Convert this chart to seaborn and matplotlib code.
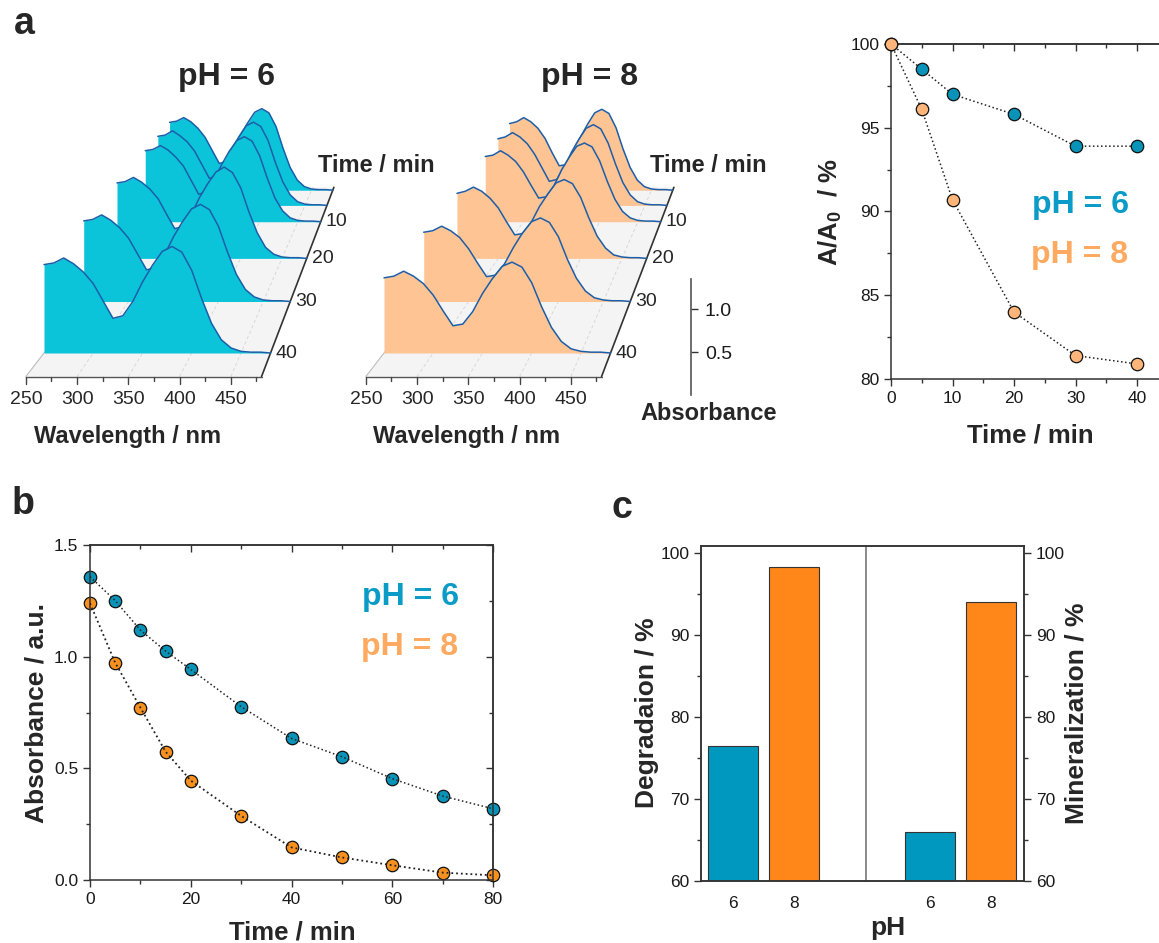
import numpy as np
import pandas as pd
import matplotlib
matplotlib.use('Agg')
import matplotlib.pyplot as plt
from matplotlib.ticker import MultipleLocator, FormatStrFormatter
import seaborn as sns

# ---------------- data ----------------
wavelength = list(range(250, 481, 10))
spec_times = [0, 5, 10, 20, 30, 40]

spec6_t0 = [1.14, 1.16, 1.22, 1.15, 1.04, 0.89, 0.67, 0.45, 0.48, 0.66, 0.92, 1.13, 1.31, 1.37, 1.30, 1.07, 0.70, 0.38, 0.17, 0.06, 0.02, 0.01, 0.01, 0.00]
spec6_t5 = [1.12, 1.14, 1.21, 1.13, 1.03, 0.88, 0.66, 0.44, 0.47, 0.65, 0.90, 1.11, 1.29, 1.35, 1.28, 1.05, 0.69, 0.38, 0.17, 0.06, 0.02, 0.01, 0.01, 0.00]
spec6_t10 = [1.11, 1.13, 1.19, 1.12, 1.01, 0.87, 0.65, 0.43, 0.46, 0.64, 0.89, 1.10, 1.27, 1.33, 1.26, 1.03, 0.68, 0.37, 0.17, 0.06, 0.02, 0.01, 0.01, 0.00]
spec6_t20 = [1.09, 1.11, 1.17, 1.10, 1.00, 0.86, 0.64, 0.43, 0.46, 0.63, 0.88, 1.08, 1.25, 1.32, 1.24, 1.02, 0.67, 0.37, 0.16, 0.06, 0.02, 0.01, 0.01, 0.00]
spec6_t30 = [1.07, 1.09, 1.15, 1.08, 0.98, 0.84, 0.63, 0.42, 0.45, 0.62, 0.86, 1.06, 1.23, 1.29, 1.22, 1.00, 0.66, 0.36, 0.16, 0.06, 0.02, 0.01, 0.01, 0.00]
spec6_t40 = [1.07, 1.09, 1.15, 1.08, 0.98, 0.84, 0.63, 0.42, 0.45, 0.62, 0.86, 1.06, 1.23, 1.29, 1.22, 1.00, 0.66, 0.36, 0.16, 0.06, 0.02, 0.01, 0.01, 0.00]

spec8_t0 = [1.12, 1.15, 1.22, 1.15, 1.04, 0.87, 0.63, 0.41, 0.43, 0.62, 0.89, 1.11, 1.30, 1.36, 1.29, 1.05, 0.69, 0.38, 0.17, 0.06, 0.02, 0.01, 0.01, 0.00]
spec8_t5 = [1.08, 1.11, 1.18, 1.11, 1.00, 0.83, 0.61, 0.39, 0.42, 0.59, 0.86, 1.07, 1.25, 1.31, 1.24, 1.01, 0.67, 0.37, 0.17, 0.06, 0.02, 0.01, 0.01, 0.00]
spec8_t10 = [1.02, 1.04, 1.11, 1.04, 0.94, 0.78, 0.57, 0.37, 0.39, 0.56, 0.81, 1.01, 1.18, 1.23, 1.17, 0.95, 0.63, 0.35, 0.16, 0.06, 0.02, 0.01, 0.01, 0.00]
spec8_t20 = [0.94, 0.97, 1.03, 0.97, 0.87, 0.73, 0.53, 0.34, 0.36, 0.52, 0.75, 0.93, 1.09, 1.14, 1.08, 0.88, 0.58, 0.32, 0.15, 0.05, 0.02, 0.01, 0.01, 0.00]
spec8_t30 = [0.92, 0.94, 1.00, 0.94, 0.85, 0.70, 0.51, 0.33, 0.35, 0.50, 0.72, 0.91, 1.06, 1.11, 1.05, 0.86, 0.56, 0.31, 0.14, 0.05, 0.02, 0.01, 0.01, 0.00]
spec8_t40 = [0.91, 0.93, 0.99, 0.93, 0.84, 0.70, 0.51, 0.33, 0.35, 0.50, 0.72, 0.90, 1.05, 1.10, 1.04, 0.85, 0.56, 0.31, 0.14, 0.05, 0.02, 0.01, 0.01, 0.00]

ratio_time = [0, 5, 10, 20, 30, 40]
ratio_ph6 = [100.0, 98.5, 97.0, 95.8, 93.9, 93.9]
ratio_ph8 = [100.0, 96.1, 90.7, 84.0, 81.4, 80.9]

abs_time = [0, 5, 10, 15, 20, 30, 40, 50, 60, 70, 80]
abs_ph6 = [1.358, 1.251, 1.119, 1.025, 0.943, 0.776, 0.634, 0.552, 0.454, 0.376, 0.319]
abs_ph8 = [1.239, 0.973, 0.772, 0.575, 0.445, 0.287, 0.146, 0.101, 0.066, 0.033, 0.021]

bar_ph = ['6', '8', '6', '8']
degradation = [76.5, 98.3]
mineralization = [66.0, 94.0]

# ---------------- style ----------------
sns.set_style('ticks')
plt.rcParams['font.family'] = ['Liberation Sans', 'DejaVu Sans']
plt.rcParams.update({
    'mathtext.fontset': 'custom',
    'mathtext.rm': 'Liberation Sans',
    'mathtext.bf': 'Liberation Sans:bold',
    'axes.edgecolor': '#333333',
    'axes.linewidth': 1.1,
    'xtick.color': '#333333',
    'ytick.color': '#333333',
    'xtick.labelcolor': '#1a1a1a',
    'ytick.labelcolor': '#1a1a1a',
})

teal_fill, peach_fill, curve_line = '#0bc4da', '#ffc494', '#1c5ea8'
teal_dot, peach_dot, orange_dot = '#0a93b8', '#fdb57a', '#f7901e'
teal_txt, orange_txt = '#0a9cc6', '#ffaa60'
teal_bar, orange_bar = '#0098be', '#ff8618'

W, H = 1159, 943
fig = plt.figure(figsize=(W / 100, H / 100), dpi=100)


def px_axes(x0, y0, x1, y1):
    return fig.add_axes([x0 / W, 1 - y1 / H, (x1 - x0) / W, (y1 - y0) / H])


def ftext(x, y, s, **kw):
    kw.setdefault('ha', 'center')
    kw.setdefault('va', 'center')
    fig.text(x / W, 1 - y / H, s, **kw)


def origin_ticks(ax, xmaj, xmin, ymaj, ymin, right=True):
    # left/bottom ticks point out, mirrored top/right ticks point in
    ax.xaxis.set_major_locator(MultipleLocator(xmaj))
    ax.xaxis.set_minor_locator(MultipleLocator(xmin))
    ax.yaxis.set_major_locator(MultipleLocator(ymaj))
    ax.yaxis.set_minor_locator(MultipleLocator(ymin))
    ax.tick_params(which='both', direction='out', width=1, labelsize=12.5)
    ax.tick_params(which='major', length=5)
    ax.tick_params(which='minor', length=3)
    top = ax.secondary_xaxis('top')
    top.xaxis.set_major_locator(MultipleLocator(xmaj))
    top.xaxis.set_minor_locator(MultipleLocator(xmin))
    top.tick_params(which='both', direction='in', width=1, labeltop=False)
    top.tick_params(which='major', length=5)
    top.tick_params(which='minor', length=3)
    if right:
        rgt = ax.secondary_yaxis('right')
        rgt.yaxis.set_major_locator(MultipleLocator(ymaj))
        rgt.yaxis.set_minor_locator(MultipleLocator(ymin))
        rgt.tick_params(which='both', direction='in', width=1, labelright=False)
        rgt.tick_params(which='major', length=5)
        rgt.tick_params(which='minor', length=3)


# ---------------- waterfall (pseudo 3D) ----------------
VX, VY, DEPTH = 706.0, 7.05, 0.0097   # vanishing point in front-plane units


def project(w, a, s):
    k = 1.0 / (1.0 + DEPTH * np.asarray(s, dtype=float))
    return VX + (np.asarray(w, dtype=float) - VX) * k, VY + (np.asarray(a, dtype=float) - VY) * k


def draw_waterfall(ax, spectra, fill, time_x):
    ax.set_xlim(250 - 44 / 0.985, 250 + 294 / 0.985)
    ax.set_ylim((353 - 445) / 82.6, (353 - 60) / 82.6)
    ax.axis('off')
    fx, fy = project([250, 480, 480, 250], [0, 0, 0, 0], [-4, -4, 41, 41])
    ax.fill(fx, fy, color='#f4f4f4', lw=0, zorder=0)
    for w in (300, 350, 400, 450):
        gx, gy = project([w, w], [0, 0], [-4, 41])
        ax.plot(gx, gy, color='#d4d4d4', lw=0.6, ls=(0, (4, 3)), zorder=0.5)
    lx, ly = project([250, 250], [0, 0], [-4, 41])
    ax.plot(lx, ly, color='#bdbdbd', lw=0.8, zorder=0.6)
    ex, ey = project([250, 480], [0, 0], [-4, -4])
    ax.plot(ex, ey, color='#555555', lw=1.0, zorder=0.6)
    rx, ry = project([480, 480], [0, 0], [-4, 41])
    ax.plot(rx, ry, color='#333333', lw=1.2, zorder=0.7)
    for w in range(250, 476, 25):
        x, y = project(w, 0, -4)
        length = 0.09 if w % 50 == 0 else 0.05
        ax.plot([x, x], [y, y - length], color='#444444', lw=1.0)
        if w % 50 == 0:
            ax.text(x, y - 0.28, str(w), ha='center', va='center', fontsize=14)
    for t in (10, 20, 30, 40):
        x, y = project(480, 0, 40 - t)
        ax.text(x + 5, y, str(t), ha='left', va='center', fontsize=14)
    ax.text(time_x, 2.276, 'Time / min', ha='left', va='center', fontsize=17, fontweight='bold')
    # curves, drawn back (t = 0) to front (t = 40)
    for t, a in zip(spec_times, spectra):
        s = 40 - t
        xs, ys = project(wavelength, a, s)
        _, base = project(250, 0, s)
        ax.fill_between(xs, ys, base, color=fill, lw=0, zorder=2)
        ax.plot(xs, ys, color=curve_line, lw=1.1, zorder=2, solid_joinstyle='round')


ax6 = px_axes(0, 60, 338, 445)
draw_waterfall(ax6, [spec6_t0, spec6_t5, spec6_t10, spec6_t20, spec6_t30, spec6_t40], teal_fill, 528)
ax8 = px_axes(340, 60, 678, 445)
draw_waterfall(ax8, [spec8_t0, spec8_t5, spec8_t10, spec8_t20, spec8_t30, spec8_t40], peach_fill, 520)

ftext(227, 77, 'pH = 6', fontsize=23, fontweight='bold')
ftext(590, 77, 'pH = 8', fontsize=23, fontweight='bold')
ftext(128, 437, 'Wavelength / nm', fontsize=17, fontweight='bold')
ftext(467, 437, 'Wavelength / nm', fontsize=17, fontweight='bold')

# absorbance scale bar
axs = px_axes(690, 279, 691, 395)
axs.set_ylim(0, 1.35)
for sp in ('left', 'top', 'bottom'):
    axs.spines[sp].set_visible(False)
axs.spines['right'].set_color('#555555')
axs.spines['right'].set_linewidth(1.2)
axs.set_xticks([])
axs.yaxis.set_ticks_position('right')
axs.set_yticks([0.5, 1.0], ['0.5', '1.0'])
axs.tick_params(axis='y', direction='out', length=5, width=1, pad=5, labelsize=14)
ftext(709, 413, 'Absorbance', fontsize=17, fontweight='bold')

# ---------------- A/A0 panel ----------------
axr = px_axes(891, 44, 1165, 379)
sns.lineplot(x=ratio_time, y=ratio_ph6, color='#222222', linestyle=':', lw=1.1, ax=axr, zorder=2)
sns.lineplot(x=ratio_time, y=ratio_ph8, color='#222222', linestyle=':', lw=1.1, ax=axr, zorder=2)
sns.scatterplot(x=ratio_time, y=ratio_ph6, color=teal_dot, s=80, edgecolor='#111111', linewidth=0.9,
                ax=axr, zorder=3, clip_on=False)
sns.scatterplot(x=ratio_time, y=ratio_ph8, color=peach_dot, s=80, edgecolor='#111111', linewidth=0.9,
                ax=axr, zorder=3, clip_on=False)
axr.set_xlim(0, 274 / 6.15)
axr.set_ylim(80, 100)
origin_ticks(axr, 10, 5, 5, 2.5, right=False)
axr.set_xlabel('')
axr.set_ylabel('')
ftext(1080, 205, 'pH = 6', fontsize=23, fontweight='bold', color=teal_txt)
ftext(1080, 255, 'pH = 8', fontsize=23, fontweight='bold', color=orange_txt)
ftext(830, 212, r'A/A$_\mathbf{0}$  / %', fontsize=18.5, fontweight='bold', rotation=90)
ftext(1030, 435, 'Time / min', fontsize=18.5, fontweight='bold')

# ---------------- panel b ----------------
axb = px_axes(90, 545, 493, 880)
sns.scatterplot(x=abs_time, y=abs_ph6, color=teal_dot, s=80, edgecolor='#111111', linewidth=0.9,
                ax=axb, zorder=2, clip_on=False)
sns.scatterplot(x=abs_time, y=abs_ph8, color=orange_dot, s=80, edgecolor='#111111', linewidth=0.9,
                ax=axb, zorder=2, clip_on=False)
sns.lineplot(x=abs_time, y=abs_ph6, color='#222222', linestyle=':', lw=1.1, ax=axb, zorder=3)
sns.lineplot(x=abs_time, y=abs_ph8, color='#222222', linestyle=':', lw=1.3, ax=axb, zorder=3)
axb.set_xlim(0, 80)
axb.set_ylim(0, 1.5)
origin_ticks(axb, 20, 10, 0.5, 0.25)
axb.yaxis.set_major_formatter(FormatStrFormatter('%.1f'))
axb.set_xlabel('')
axb.set_ylabel('')
ftext(410, 597, 'pH = 6', fontsize=23, fontweight='bold', color=teal_txt)
ftext(410, 647, 'pH = 8', fontsize=23, fontweight='bold', color=orange_txt)
ftext(37, 713, 'Absorbance / a.u.', fontsize=19, fontweight='bold', rotation=90)
ftext(292, 933, 'Time / min', fontsize=18.5, fontweight='bold')

# ---------------- panel c ----------------
bar_pos = [0, 1, 3.2, 4.2]
bar_df = pd.DataFrame({'pos': bar_pos, 'value': degradation + mineralization, 'pH': bar_ph})
axc = px_axes(701, 546, 1024, 881)
sns.barplot(data=bar_df, x='pos', y='value', hue='pH', palette={'6': teal_bar, '8': orange_bar},
            native_scale=True, width=0.81, dodge=False, saturation=1, edgecolor='#333333',
            linewidth=0.8, legend=False, ax=axc)
axc.set_xlim(-0.515, 4.73)
axc.set_ylim(60, 100.85)
axc.axvline(2.164, color='#777777', lw=1.2)
axc.set_xticks(bar_pos, bar_ph)
axc.tick_params(axis='x', length=0, pad=11, labelsize=12.5)
axc.yaxis.set_major_locator(MultipleLocator(10))
axc.yaxis.set_minor_locator(MultipleLocator(5))
axc.tick_params(axis='y', which='both', labelsize=12.5, width=1, direction='out')
axc.tick_params(axis='y', which='major', length=5)
axc.tick_params(axis='y', which='minor', length=3)
axc.set_xlabel('')
axc.set_ylabel('')
axc2 = axc.twinx()
axc2.set_ylim(60, 100.85)
axc2.yaxis.set_major_locator(MultipleLocator(10))
axc2.yaxis.set_minor_locator(MultipleLocator(5))
axc2.tick_params(axis='y', which='both', labelsize=12.5, width=1, direction='out')
axc2.tick_params(axis='y', which='major', length=5)
axc2.tick_params(axis='y', which='minor', length=3)
for a in (axc, axc2):
    for sp in a.spines.values():
        sp.set_visible(True)
ftext(647, 713, 'Degradaion / %', fontsize=19, fontweight='bold', rotation=90)
ftext(1077, 713, 'Mineralization / %', fontsize=19, fontweight='bold', rotation=90)
ftext(888, 928, 'pH', fontsize=19, fontweight='bold')

# panel letters
ftext(24, 24, 'a', fontsize=27, fontweight='bold')
ftext(23, 504, 'b', fontsize=27, fontweight='bold')
ftext(622, 508, 'c', fontsize=27, fontweight='bold')

fig.savefig('out.png', dpi=100)
